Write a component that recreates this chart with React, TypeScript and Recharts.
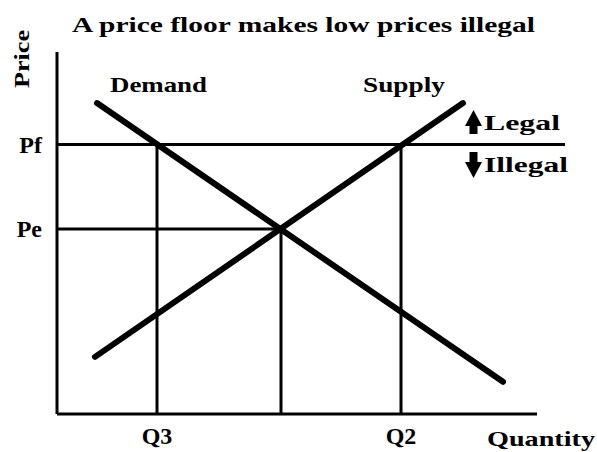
import {
  ComposedChart, Line, XAxis, YAxis, ReferenceLine, Customized,
} from "recharts";

// quantity (x) and price (y) in chart units
const demandQ = [1.0, 11.15];
const demandP = [7.73, 0.8];
const supplyQ = [0.95, 10.15];
const supplyP = [1.42, 7.73];

const priceTicks = [4.6, 6.7];
const priceLabels = ["Pe", "Pf"];
const qtyTicks = [2.5, 8.6];
const qtyLabels = ["Q3", "Q2"];

const eqQ = 5.6;
const eqP = 4.6;
const floorP = 6.7;
const floorEnd = 12.7;
const q3 = 2.5;
const q2 = 8.6;

const demand = demandQ.map((q, i) => ({ q, p: demandP[i] }));
const supply = supplyQ.map((q, i) => ({ q, p: supplyP[i] }));

const FONT = "'Liberation Serif', 'Times New Roman', serif";
const tickStyle = { fill: "#000", fontSize: 24, fontWeight: "bold", fontFamily: FONT };

const Annotations = () => (
  <g fontFamily={FONT} fontWeight="bold" fill="#000">
    <text x={72} y={32} fontSize={22} textLength={463} lengthAdjust="spacingAndGlyphs">
      A price floor makes low prices illegal
    </text>
    <text x={0} y={0} fontSize={22} transform="translate(29,88) rotate(-90)" textLength={58} lengthAdjust="spacingAndGlyphs">
      Price
    </text>
    <text x={110} y={92} fontSize={22} textLength={97} lengthAdjust="spacingAndGlyphs">Demand</text>
    <text x={363} y={92} fontSize={22} textLength={82} lengthAdjust="spacingAndGlyphs">Supply</text>
    <text x={484} y={130} fontSize={22} textLength={76} lengthAdjust="spacingAndGlyphs">Legal</text>
    <text x={484} y={172} fontSize={22} textLength={84} lengthAdjust="spacingAndGlyphs">Illegal</text>
    {/* up / down block arrows */}
    <path d="M473.5,110 L482,126 L477.5,126 L477.5,134 L469.5,134 L469.5,126 L465,126 Z" />
    <path d="M473.5,178 L482,162 L477.5,162 L477.5,152 L469.5,152 L469.5,162 L465,162 Z" />
    <text x={487} y={446} fontSize={22} textLength={108} lengthAdjust="spacingAndGlyphs">Quantity</text>
  </g>
);

export default function App() {
  return (
    <div style={{ position: "absolute", left: 0, top: 0, background: "#fff" }}>
      <ComposedChart width={597} height={452} margin={{ top: 52, right: 60, bottom: 0, left: 0 }}>
        <XAxis
          type="number"
          dataKey="q"
          domain={[0, 12]}
          ticks={qtyTicks}
          tickFormatter={(v: number) => qtyLabels[qtyTicks.indexOf(v)]}
          allowDataOverflow
          height={38}
          tickLine={false}
          tickSize={0}
          tickMargin={13}
          axisLine={{ stroke: "#000", strokeWidth: 3 }}
          tick={tickStyle}
        />
        <YAxis
          type="number"
          dataKey="p"
          domain={[0, 9]}
          ticks={priceTicks}
          tickFormatter={(v: number) => priceLabels[priceTicks.indexOf(v)]}
          allowDataOverflow
          width={57}
          tickLine={false}
          tickSize={0}
          tickMargin={15}
          axisLine={{ stroke: "#000", strokeWidth: 3 }}
          tick={tickStyle}
        />
        <ReferenceLine segment={[{ x: 0, y: floorP }, { x: floorEnd, y: floorP }]} stroke="#000" strokeWidth={3} ifOverflow="visible" />
        <ReferenceLine segment={[{ x: 0, y: eqP }, { x: eqQ, y: eqP }]} stroke="#000" strokeWidth={3} />
        <ReferenceLine segment={[{ x: q3, y: 0 }, { x: q3, y: floorP }]} stroke="#000" strokeWidth={3} />
        <ReferenceLine segment={[{ x: eqQ, y: 0 }, { x: eqQ, y: eqP }]} stroke="#000" strokeWidth={3} />
        <ReferenceLine segment={[{ x: q2, y: 0 }, { x: q2, y: floorP }]} stroke="#000" strokeWidth={3} />
        <Line data={demand} dataKey="p" type="linear" stroke="#000" strokeWidth={6} strokeLinecap="round" dot={false} isAnimationActive={false} />
        <Line data={supply} dataKey="p" type="linear" stroke="#000" strokeWidth={6} strokeLinecap="round" dot={false} isAnimationActive={false} />
        <Customized component={Annotations} />
      </ComposedChart>
    </div>
  );
}
